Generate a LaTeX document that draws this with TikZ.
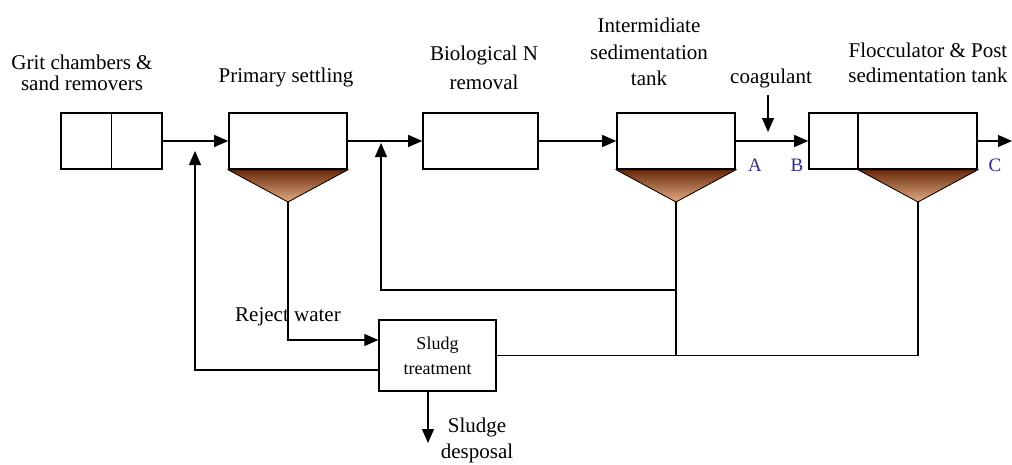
\documentclass[tikz,border=0pt]{standalone}
\usepackage{fontspec}
\setmainfont{Liberation Serif}
\usetikzlibrary{arrows.meta}
\definecolor{sludgetop}{RGB}{105,42,12}
\definecolor{sludgebot}{RGB}{225,172,132}
\definecolor{markblue}{RGB}{45,45,135}
\tikzset{
    tank/.style={draw, line width=1.6pt, fill=white, minimum height=56pt, inner sep=0pt},
    hopper/.style={draw, line width=0.8pt, top color=sludgetop, bottom color=sludgebot},
    flow/.style={-{Triangle[length=14pt,width=12pt]}, line width=1.2pt},
    pipe/.style={line width=1.2pt},
    lbl/.style={font=\fontsize{21}{25}\selectfont, align=center, inner sep=1pt},
    mark/.style={}
}
\begin{document}
\begin{tikzpicture}[x=1pt,y=-1pt]
        \useasboundingbox (0,0) rectangle (1012,464);
        \node[tank, minimum width=101pt] (grit)  at (111.5,141) {};
        \node[tank, minimum width=118pt] (prim)  at (288,141)   {};
        \node[tank, minimum width=115pt] (bio)   at (480.5,141) {};
        \node[tank, minimum width=118pt] (inter) at (676,141)   {};
        \node[tank, minimum width=168pt] (floc)  at (893,141)   {};
        \node[draw, line width=1.3pt, minimum width=117pt, minimum height=71pt, align=center,
              font=\fontsize{18}{25}\selectfont] (sludge) at (437.5,355.5) {Sludg\\treatment};
        \draw[line width=1.6pt] (grit.north) -- (grit.south);
        \draw[line width=1.6pt] ([xshift=50pt]floc.north west) -- ([xshift=50pt]floc.south west);
        \coordinate (pa) at (288,202);
        \coordinate (ia) at (676,202);
        \coordinate (fa) at (918,202);
        \filldraw[hopper] (prim.south west) -- (prim.south east) -- (pa) -- cycle;
        \filldraw[hopper] (inter.south west) -- (inter.south east) -- (ia) -- cycle;
        \filldraw[hopper] ([xshift=50pt]floc.south west) -- (floc.south east) -- (fa) -- cycle;
        \node[lbl, font=\fontsize{21}{21}\selectfont] (gritlbl) at (82,72.5) {Grit chambers \&\\sand removers};
        \node[lbl] (primlbl)  at (286,77)   {Primary settling};
        \node[lbl, font=\fontsize{21}{29}\selectfont] (biolbl) at (484,67.5) {Biological N\\removal};
        \node[lbl, font=\fontsize{21}{26.5}\selectfont] (interlbl) at (649,52) {Intermidiate\\sedimentation\\tank};
        \node[lbl] (floclbl)  at (928,62.5) {Flocculator \& Post\\sedimentation tank};
        \node[lbl] (coag)     at (771,78)   {coagulant};
        \node[lbl] (reject)   at (288,317)  {Reject water};
        \node[lbl, font=\fontsize{21}{26}\selectfont] (displbl) at (477,440) {Sludge\\desposal};
        \node[lbl, text=markblue, font=\fontsize{19}{22}\selectfont] (ma) at (755,165) {A};
        \node[lbl, text=markblue, font=\fontsize{19}{22}\selectfont] (mb) at (797,165) {B};
        \node[lbl, text=markblue, font=\fontsize{19}{22}\selectfont] (mc) at (995,165) {C};
        \coordinate (coagin) at (768,132);
        \coordinate (out)    at (1012,141);
        \coordinate (rec1)   at (195,151);
        \coordinate (rec2)   at (381,143);
        \coordinate (tee)    at (676,290);
        \coordinate (disp)   at (428,443);
        \draw[flow] (grit.east) -- (prim.west);
        \draw[flow] (prim.east) -- (bio.west);
        \draw[flow] (bio.east) -- (inter.west);
        \draw[flow] (inter.east) -- (floc.west);
        \draw[flow] (floc.east) -- (out);
        \draw[flow, shorten <=6pt] (coag.south -| coagin) -- (coagin);
        \draw[flow] (pa) |- ([yshift=15.5pt]sludge.west);
        \draw[flow] ([yshift=-14.5pt]sludge.west) -| (rec1);
        \draw[pipe] (ia) -- (ia |- sludge.east);
        \draw[pipe] (sludge.east) -| (fa);
        \draw[flow] (tee) -| (rec2);
        \draw[flow] (sludge.south -| disp) -- (disp);
    \end{tikzpicture}
\end{document}
